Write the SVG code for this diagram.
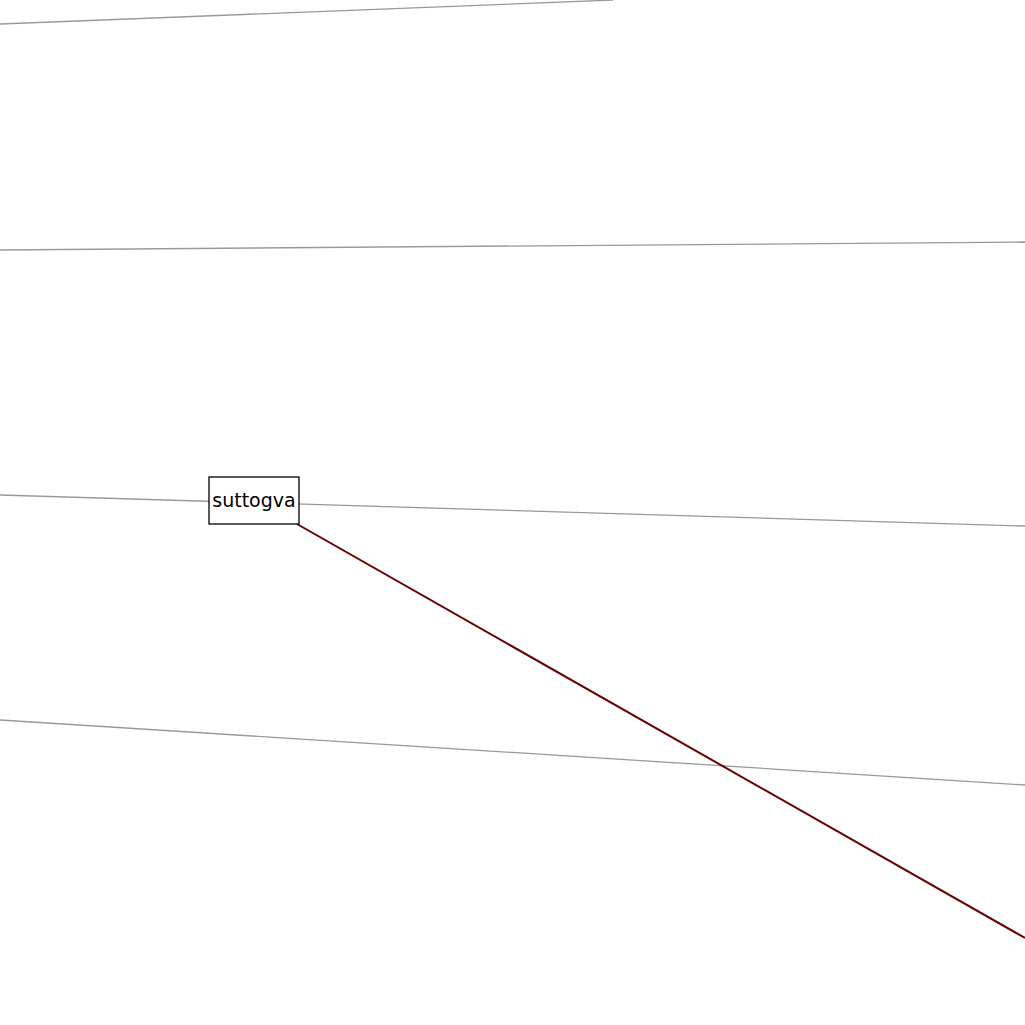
<svg xmlns="http://www.w3.org/2000/svg" width="1025" height="1025" viewBox="0 0 1025 1025">
<style>
.bg{stroke:#999999;stroke-width:1.3;fill:none}
.edge{stroke:#660000;stroke-width:2;fill:none}
.node rect{fill:#ffffff;stroke:#000000;stroke-width:1.3}
.node text{font-family:"DejaVu Sans",sans-serif;font-size:19px;fill:#000000}
</style>
<rect width="1025" height="1025" fill="#ffffff"/>
<g id="connectors">
<line class="bg" x1="0" y1="24" x2="613" y2="0"/>
<line class="bg" x1="0" y1="250" x2="1025" y2="242"/>
<line class="bg" x1="0" y1="495" x2="1025" y2="526"/>
<line class="bg" x1="0" y1="720" x2="1025" y2="785"/>
<line class="edge" x1="297" y1="524" x2="1025" y2="938"/>
</g>
<g id="node-suttogva" class="node">
<rect x="209" y="477" width="90" height="47"/>
<text x="254" y="507" text-anchor="middle">suttogva</text>
</g>
</svg>
